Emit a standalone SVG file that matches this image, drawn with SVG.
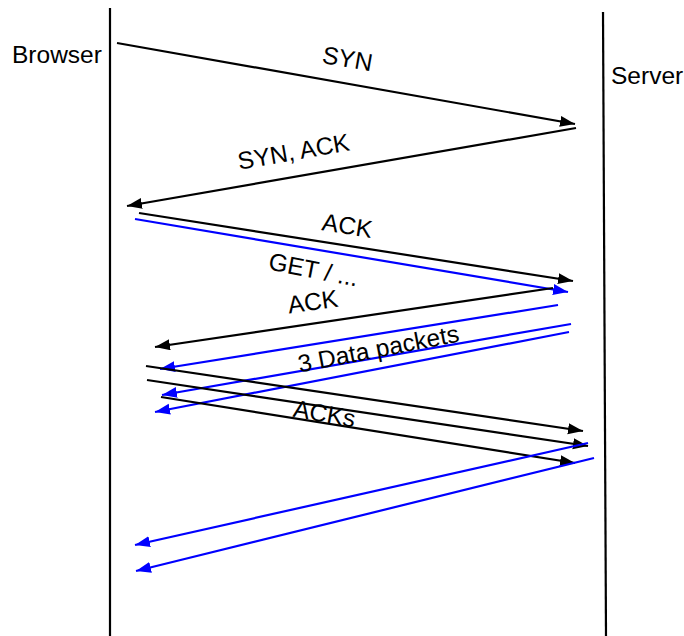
<svg xmlns="http://www.w3.org/2000/svg" width="684" height="636" viewBox="0 0 684 636">
<style>
  text { font-family: "Liberation Sans", Arial, sans-serif; font-size: 24.5px; fill: #000; }
  .lbl { text-anchor: middle; }
  .life { stroke: #000; stroke-width: 2.2; fill: none; }
  .k { stroke: #000; stroke-width: 2.2; fill: none; marker-end: url(#ak); }
  .b { stroke: #0000ff; stroke-width: 2.2; fill: none; marker-end: url(#ab); }
</style>
<defs>
  <marker id="ak" markerUnits="userSpaceOnUse" markerWidth="16" markerHeight="12" refX="15" refY="5.5" orient="auto">
    <path d="M0,0 L15,5.5 L0,11 z" fill="#000"/>
  </marker>
  <marker id="ab" markerUnits="userSpaceOnUse" markerWidth="16" markerHeight="12" refX="15" refY="5.5" orient="auto">
    <path d="M0,0 L15,5.5 L0,11 z" fill="#0000ff"/>
  </marker>
</defs>
<rect width="684" height="636" fill="#fff"/>
<g id="browser">
  <line class="life" x1="110" y1="8" x2="110" y2="636"/>
  <text x="12" y="63">Browser</text>
</g>
<g id="server">
  <line class="life" x1="603" y1="12" x2="606" y2="636"/>
  <text x="611" y="84">Server</text>
</g>
<g id="connectors">
  <line class="k" x1="117" y1="43" x2="575" y2="124"/>
  <line class="k" x1="576" y1="128" x2="127" y2="206"/>
  <line class="k" x1="139" y1="213" x2="573" y2="281"/>
  <line class="b" x1="135" y1="219" x2="568" y2="292"/>
  <line class="k" x1="553" y1="288" x2="155" y2="347"/>
  <line class="b" x1="558" y1="305" x2="160" y2="369"/>
  <line class="b" x1="571" y1="324" x2="162" y2="395"/>
  <line class="b" x1="569" y1="332" x2="155" y2="412"/>
  <line class="k" x1="146" y1="366" x2="583" y2="431"/>
  <line class="k" x1="147" y1="380" x2="588" y2="446"/>
  <line class="k" x1="161" y1="397" x2="575" y2="463"/>
  <line class="b" x1="588" y1="443" x2="135" y2="545"/>
  <line class="b" x1="594" y1="458" x2="136" y2="571"/>
  <text class="lbl" transform="translate(346,67) rotate(10)">SYN</text>
  <text class="lbl" transform="translate(295,160) rotate(-10)">SYN, ACK</text>
  <text class="lbl" transform="translate(346,234) rotate(9)">ACK</text>
  <text class="lbl" transform="translate(312,278) rotate(11)">GET / ...</text>
  <text class="lbl" transform="translate(314,310) rotate(-8)">ACK</text>
  <text class="lbl" transform="translate(380,357) rotate(-11)">3 Data packets</text>
  <text class="lbl" transform="translate(323,422) rotate(10)">ACKs</text>
</g>
</svg>
